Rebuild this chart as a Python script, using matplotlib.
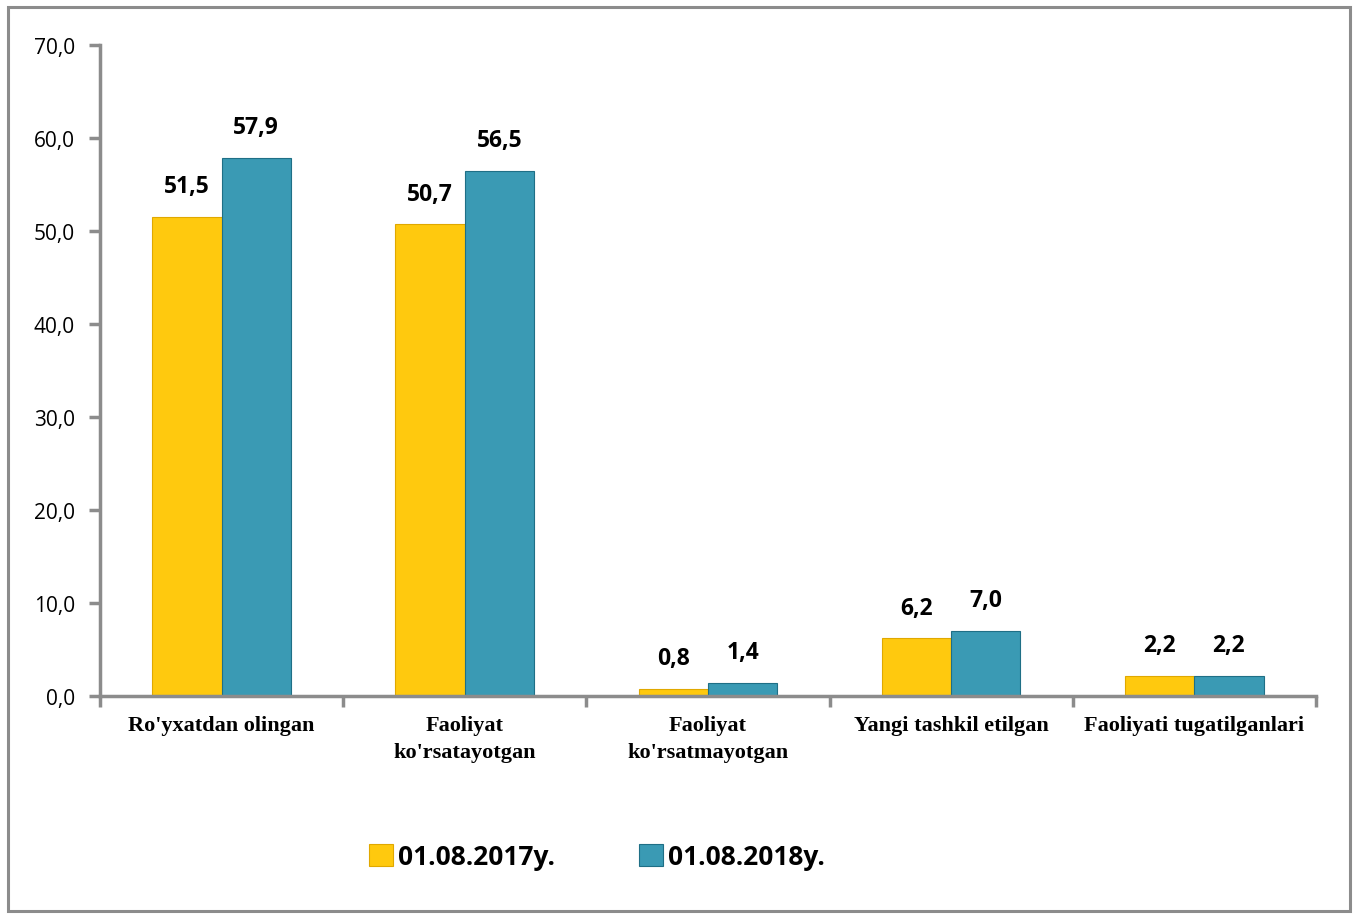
import matplotlib.pyplot as plt
import numpy as np
from matplotlib.patches import Rectangle

categories = ["Ro'yxatdan olingan", "Faoliyat\nko'rsatayotgan", "Faoliyat\nko'rsatmayotgan",
              "Yangi tashkil etilgan", "Faoliyati tugatilganlari"]
vals_2017 = [51.5, 50.7, 0.8, 6.2, 2.2]
vals_2018 = [57.9, 56.5, 1.4, 7.0, 2.2]
series_names = ["01.08.2017y.", "01.08.2018y."]
yticks = [0, 10, 20, 30, 40, 50, 60, 70]

yellow = '#FFC90E'
blue = '#3A9AB4'
grey = '#8C8C8C'

fig = plt.figure(figsize=(13.57, 9.2), dpi=100)
fig.patches.append(Rectangle((0.006, 0.009), 0.989, 0.982, transform=fig.transFigure,
                             fill=False, edgecolor=grey, linewidth=2.2))
ax = fig.add_axes([0.0737, 0.2424, 0.896, 0.7076])

x = np.arange(len(categories))
w = 0.285
b1 = ax.bar(x - w / 2, vals_2017, w, color=yellow, edgecolor='#E0A800', linewidth=0.8)
b2 = ax.bar(x + w / 2, vals_2018, w, color=blue, edgecolor='#1F6F86', linewidth=0.8)

for xs, vs in [(x - w / 2, vals_2017), (x + w / 2, vals_2018)]:
    for xi, v in zip(xs, vs):
        ax.text(xi, v + 2.0, f"{v:.1f}".replace('.', ','), ha='center', va='bottom',
                fontsize=16.5, fontweight='bold', family='Open Sans')

ax.set_xlim(-0.5, len(categories) - 0.5)
ax.set_ylim(0, 70)
ax.set_yticks(yticks)
ax.set_yticklabels([f"{t:.1f}".replace('.', ',') for t in yticks], fontsize=15, family='Open Sans')
ax.set_xticks(np.arange(len(categories) + 1) - 0.5, minor=False)
ax.set_xticklabels([])
for xi, c in zip(x, categories):
    ax.text(xi, -2.0, c, ha='center', va='top', fontsize=16, fontweight='bold',
            family='Liberation Serif', linespacing=1.5)

for s in ['top', 'right']:
    ax.spines[s].set_visible(False)
for s in ['left', 'bottom']:
    ax.spines[s].set_color(grey)
    ax.spines[s].set_linewidth(2.5)
ax.tick_params(axis='both', color=grey, width=2.5, length=8)
ax.tick_params(axis='y', pad=10)

leg = fig.legend([b1, b2], series_names, loc='center', bbox_to_anchor=(0.44, 0.068), ncol=2,
                 frameon=False, prop={'family': 'Open Sans', 'weight': 'bold', 'size': 19},
                 handlelength=0.9, handleheight=0.9, handletextpad=0.2, columnspacing=3.2)

fig.savefig('out.png', dpi=100)
